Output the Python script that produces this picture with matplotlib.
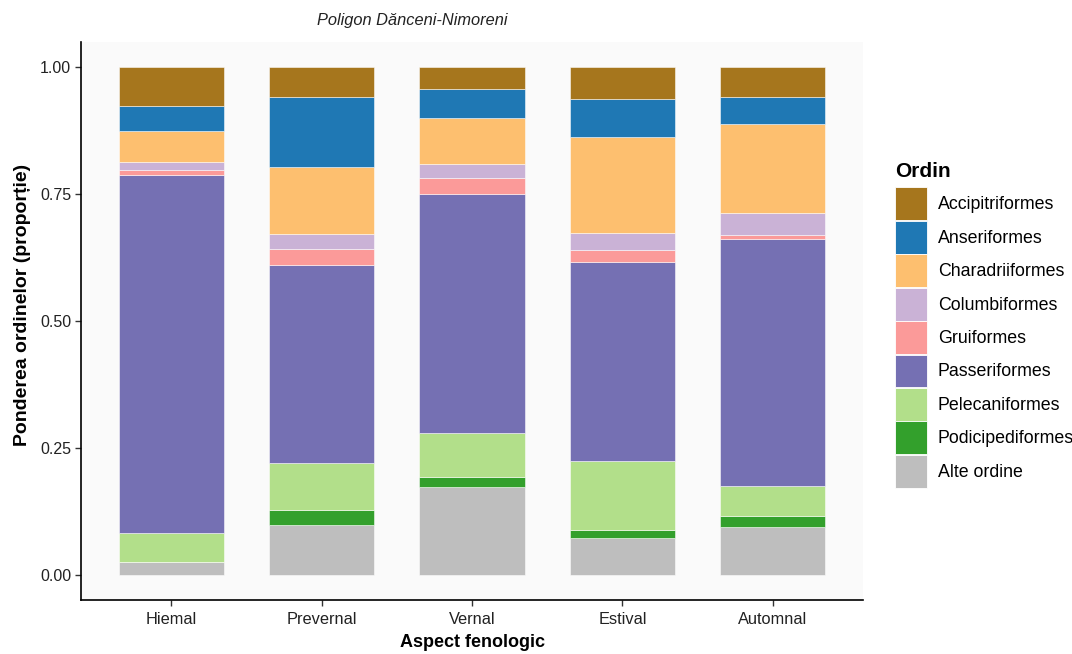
import numpy as np
import matplotlib
matplotlib.use('Agg')
from matplotlib import pyplot as plt
from matplotlib.patches import Patch

plt.rcParams['font.family'] = ['Liberation Sans', 'DejaVu Sans']

seasons = ['Hiemal', 'Prevernal', 'Vernal', 'Estival', 'Automnal']
orders = ['Accipitriformes', 'Anseriformes', 'Charadriiformes', 'Columbiformes',
          'Gruiformes', 'Passeriformes', 'Pelecaniformes', 'Podicipediformes',
          'Alte ordine']
colors = ['#A6761D', '#1F78B4', '#FDBF6F', '#CAB2D6', '#FB9A99',
          '#7570B3', '#B2DF8A', '#33A02C', '#BEBEBE']

# proportions per season (stacked with "Alte ordine" at the bottom)
accipitriformes  = [0.076, 0.059, 0.043, 0.062, 0.058]
anseriformes     = [0.050, 0.137, 0.056, 0.075, 0.054]
charadriiformes  = [0.061, 0.132, 0.092, 0.189, 0.176]
columbiformes    = [0.016, 0.030, 0.027, 0.034, 0.042]
gruiformes       = [0.009, 0.031, 0.031, 0.024, 0.008]
passeriformes    = [0.705, 0.391, 0.472, 0.392, 0.488]
pelecaniformes   = [0.059, 0.092, 0.086, 0.136, 0.059]
podicipediformes = [0.000, 0.031, 0.021, 0.015, 0.021]
alte_ordine      = [0.024, 0.097, 0.172, 0.073, 0.094]

series = [accipitriformes, anseriformes, charadriiformes, columbiformes,
          gruiformes, passeriformes, pelecaniformes, podicipediformes,
          alte_ordine]

fig = plt.figure(figsize=(10.72, 6.54), dpi=100)
fig.patch.set_facecolor('white')
ax = fig.add_axes([81/1072, 54/654, 782/1072, 558/654])
ax.set_facecolor('#FAFAFA')

x = np.arange(len(seasons))
bottom = np.zeros(len(seasons))
for vals, col in zip(series[::-1], colors[::-1]):
  ax.bar(x, vals, width=0.7, bottom=bottom, color=col,
         edgecolor=(1, 1, 1, 0.6), linewidth=0.6)
  bottom += np.array(vals)

ax.set_xlim(-0.6, len(seasons) - 0.4)
ax.set_ylim(-0.05, 1.05)
ax.set_xticks(x)
ax.set_xticklabels(seasons, fontsize=11.8, color='#222222')
ax.set_yticks([0, 0.25, 0.5, 0.75, 1.0])
ax.set_yticklabels(['0.00', '0.25', '0.50', '0.75', '1.00'], fontsize=11.5, color='#222222')
ax.tick_params(axis='x', length=4, width=1, color='#333333', pad=5)
ax.tick_params(axis='y', length=4, width=1, color='#333333', pad=3)
for s in ['top', 'right']:
  ax.spines[s].set_visible(False)
for s in ['left', 'bottom']:
  ax.spines[s].set_color('black')
  ax.spines[s].set_linewidth(1.2)

ax.set_xlabel('Aspect fenologic', fontsize=13, fontweight='bold', labelpad=5)
ax.set_ylabel('Ponderea ordinelor (proporție)', fontsize=14, fontweight='bold')
ax.yaxis.set_label_coords(-0.064, 0.529)

fig.text(412/1072, 1 - 20/654, 'Poligon Dănceni-Nimoreni', fontsize=11.8,
         style='italic', ha='center', va='center', color='#222222')

handles = [Patch(facecolor=c, edgecolor='white', linewidth=0.6) for c in colors]
leg = fig.legend(handles, orders, loc='upper left', bbox_to_anchor=(888/1072, 1 - 155/654),
                 frameon=False, fontsize=12.8, title='Ordin',
                 title_fontproperties={'weight': 'bold', 'size': 15},
                 handlelength=1.8, handleheight=2.47, labelspacing=0.03,
                 handletextpad=0.6, borderaxespad=0)
leg._legend_box.align = 'left'
leg._legend_box.sep = 4.5  # gap between title and keys

plt.savefig('out.png', dpi=100)
